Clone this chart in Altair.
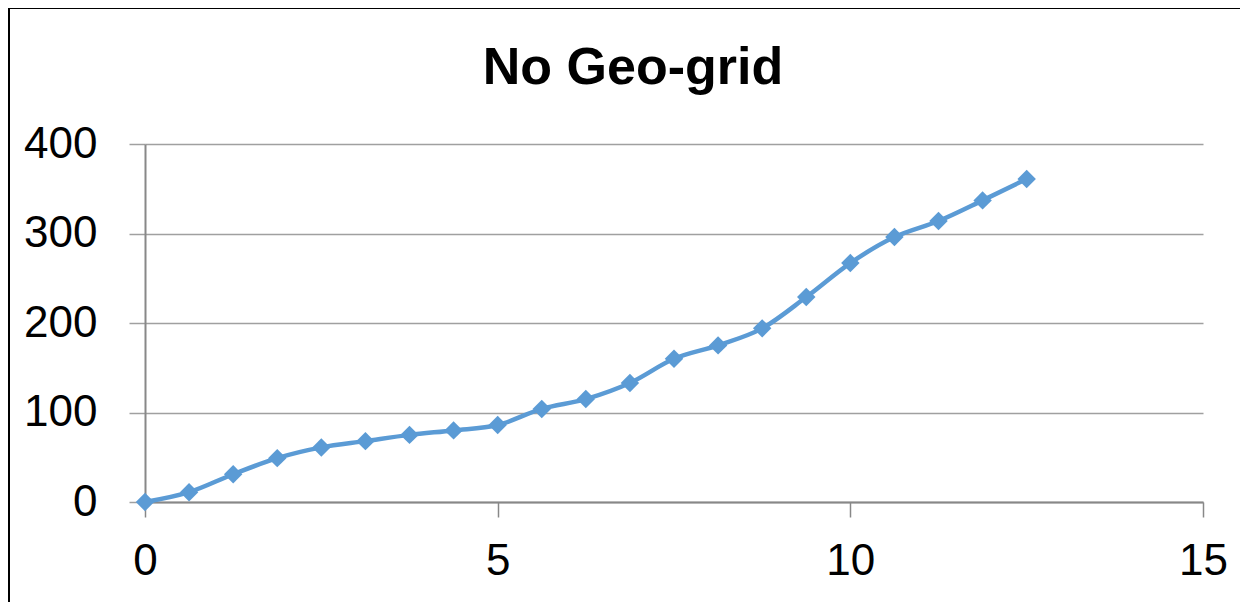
import altair as alt
import pandas as pd

x_vals = [0, 0.625, 1.25, 1.875, 2.5, 3.125, 3.75, 4.375, 5.0, 5.625, 6.25,
          6.875, 7.5, 8.125, 8.75, 9.375, 10.0, 10.625, 11.25, 11.875, 12.5]
y_vals = [0, 11, 31, 49, 61, 68, 75, 80, 86, 104, 115,
          133, 160, 175, 194, 229, 267, 296, 314, 337, 361]

df = pd.DataFrame({"x": x_vals, "y": y_vals})

FONT = "Liberation Sans"
COLOR = "#5B9BD5"

xs = alt.Scale(domain=[0, 15], nice=False, zero=True)
ys = alt.Scale(domain=[0, 400], nice=False)

base = alt.Chart(df)

line = base.mark_line(color=COLOR, strokeWidth=4.5, interpolate="monotone").encode(
    x=alt.X("x:Q", scale=xs, title=None,
            axis=alt.Axis(values=[0, 5, 10, 15], format="d", grid=False, tickSize=15,
                          tickColor="#888888", tickWidth=1.5,
                          domainColor="#888888", domainWidth=2,
                          labelFlush=False, labelOverlap=False,
                          labelFont=FONT, labelFontSize=44, labelColor="#000000",
                          labelPadding=22)),
    y=alt.Y("y:Q", scale=ys, title=None,
            axis=alt.Axis(values=[0, 100, 200, 300, 400], format="d", grid=True,
                          gridColor="#a0a0a0", gridWidth=1.5, tickSize=16,
                          tickColor="#a0a0a0", tickWidth=1.5,
                          domainColor="#888888", domainWidth=2,
                          labelFlush=False, labelOverlap=False,
                          labelFont=FONT, labelFontSize=44, labelColor="#000000",
                          labelPadding=32)),
)

points = base.mark_point(shape="diamond", filled=True, size=340, color=COLOR, opacity=1).encode(
    x=alt.X("x:Q", scale=xs),
    y=alt.Y("y:Q", scale=ys),
)

frame = alt.Chart(pd.DataFrame({"a": [0]})).mark_rect(
    fill=None, stroke="#000000", strokeWidth=2, clip=False
).encode(
    x=alt.value(-136), x2=alt.value(1140), y=alt.value(-136), y2=alt.value(500)
)

chart = alt.layer(frame, line, points).properties(
    width=1058, height=358,
    title=alt.TitleParams("No Geo-grid", font=FONT, fontSize=52,
                          fontWeight="bold", color="#000000", anchor="middle",
                          frame="group", offset=0, dx=-41, dy=88),
    autosize=alt.AutoSizeParams(type="none"),
    padding={"left": 137, "top": 136, "right": 37, "bottom": 100},
).configure_view(stroke=None)

chart.save("out.html", embed_options={"renderer": "svg", "actions": False})
